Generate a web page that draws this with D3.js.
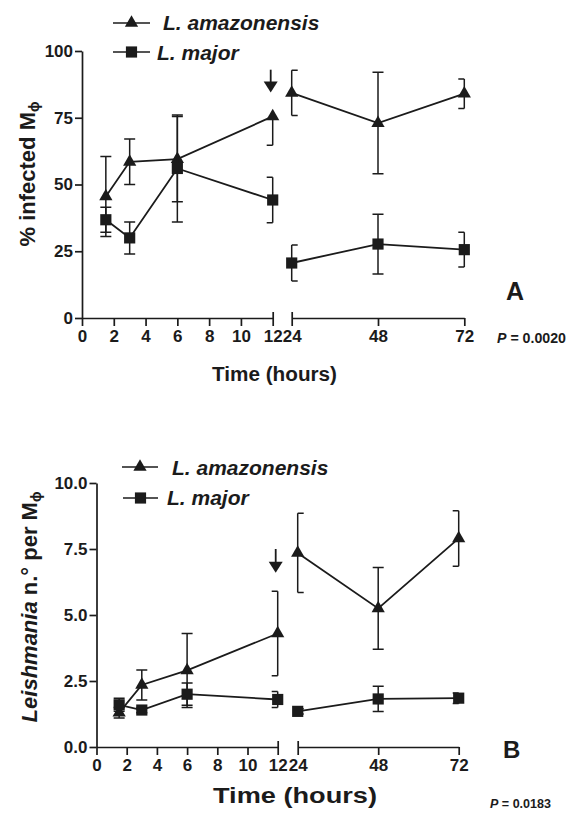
<!DOCTYPE html>
<meta charset="utf-8">
<style>

body {
  margin: 0;
  background: #fff;
}
svg {
  display: block;
}
text {
  font-family: "Liberation Sans", Arial, sans-serif;
  font-weight: bold;
  fill: #1b1b1b;
}
.axis path,
.axis line {
  stroke: #1b1b1b;
  stroke-width: 1.7px;
}
.axis text {
  font-size: 17px;
  font-family: "Liberation Sans", Arial, sans-serif;
}
.line {
  fill: none;
  stroke: #1b1b1b;
  stroke-width: 1.8px;
}
.err {
  fill: none;
  stroke: #1b1b1b;
  stroke-width: 1.5px;
}
.legend {
  font-size: 21px;
  font-style: italic;
}

</style>
<body>
<script src="https://d3js.org/d3.v7.min.js"></script>
<script>
// sampling times (hours); the x axis is broken between 12 and 24
var times = [1.5, 3, 6, 12, 24, 48, 72];
var earlyTicks = [0, 2, 4, 6, 8, 10, 12],
    lateTicks = [24, 48, 72];

// panel A: % infected macrophages
var pctTicks = [0, 25, 50, 75, 100];
var pctAmazonensis   = [45.5, 58.5, 59.5, 75.5, 84.3, 73, 84];
var pctAmazErrLow    = [15, 8.5, 16, 10.8, 8.5, 19, 5.5];
var pctAmazErrHigh   = [15, 8.5, 16, 0, 8.5, 19, 5.5];
var pctMajor         = [36.8, 30, 56, 44.2, 20.6, 27.7, 25.6];
var pctMajorErrLow   = [4.7, 6, 20, 8.5, 6.7, 11.2, 6.5];
var pctMajorErrHigh  = [4.7, 6, 20, 8.5, 6.7, 11.2, 6.5];

// panel B: parasites per macrophage
var numTicks = [0, 2.5, 5, 7.5, 10];
var numAmazonensis   = [1.3, 2.35, 2.9, 4.3, 7.35, 5.25, 7.9];
var numAmazErr       = [0.2, 0.57, 1.4, 1.6, 1.5, 1.55, 1.05];
var numMajor         = [1.6, 1.4, 2.0, 1.8, 1.35, 1.82, 1.85];
var numMajorErr      = [0.25, 0.1, 0.42, 0.3, 0.1, 0.48, 0.2];

// arrows marking 12 h (from value, to value)
var arrowA = {t: 12, from: 93, to: 84.5};
var arrowB = {t: 12, from: 7.5, to: 6.6};

var width = 574,
    height = 813;

var svg = d3.select("body").append("svg")
    .attr("width", width)
    .attr("height", height);

var panels = [
  {
    yTicks: pctTicks, yFormat: d3.format("d"),
    yRange: [318, 51], xa: [82, 272.7], xb: [291.7, 464.3],
    series: [
      {name: "L. amazonensis", shape: "tri", v: pctAmazonensis, lo: pctAmazErrLow, hi: pctAmazErrHigh},
      {name: "L. major", shape: "sq", v: pctMajor, lo: pctMajorErrLow, hi: pctMajorErrHigh}
    ],
    legend: [{x1: 113, x2: 150, y: 23, tx: 163, ty: 30}, {x1: 113, x2: 150, y: 52, tx: 157, ty: 60}],
    arrow: arrowA,
    yTitle: {x: 35, y: 174, parts: [["% infected M", "normal"]]},
    xTitle: {x: 212, y: 381, len: 125, size: 20},
    pval: {x: 497, y: 343, text: " = 0.0020", len: 69, size: 14},
    letter: {x: 506, y: 300, text: "A", size: 25}
  },
  {
    yTicks: numTicks, yFormat: d3.format(".1f"),
    yRange: [747, 483], xa: [96.5, 277.7], xb: [297.7, 458.7],
    series: [
      {name: "L. amazonensis", shape: "tri", v: numAmazonensis, lo: numAmazErr, hi: numAmazErr},
      {name: "L. major", shape: "sq", v: numMajor, lo: numMajorErr, hi: numMajorErr}
    ],
    legend: [{x1: 122, x2: 158, y: 467, tx: 172, ty: 475}, {x1: 123, x2: 158, y: 498, tx: 167, ty: 505}],
    arrow: arrowB,
    yTitle: {x: 37, y: 607, parts: [["Leishmania", "italic"], [" n.\u00b0 per M", "normal"]]},
    xTitle: {x: 213, y: 803, len: 164, size: 22},
    pval: {x: 490, y: 808, text: " = 0.0183", len: 61, size: 12.5},
    letter: {x: 503, y: 758, text: "B", size: 24}
  }
];

panels.forEach(drawPanel);

function drawPanel(p) {
  var g = svg.append("g");

  var y = d3.scaleLinear().domain(d3.extent(p.yTicks)).range(p.yRange);
  var xa = d3.scaleLinear().domain([0, 12]).range(p.xa);
  var xb = d3.scaleLinear().domain([24, 72]).range(p.xb);
  function x(t) { return t <= 12 ? xa(t) : xb(t); }

  g.append("g")
      .attr("class", "axis")
      .attr("transform", "translate(" + p.xa[0] + ",0)")
      .call(d3.axisLeft(y).tickValues(p.yTicks).tickFormat(p.yFormat)
        .tickSize(7).tickSizeOuter(0).tickPadding(2));

  [[xa, earlyTicks], [xb, lateTicks]].forEach(function(s) {
    var ax = g.append("g")
        .attr("class", "axis")
        .attr("transform", "translate(0," + p.yRange[0] + ")")
        .call(d3.axisBottom(s[0]).tickValues(s[1])
          .tickSize(8).tickSizeOuter(0).tickPadding(4));
    // the ends at the axis break stick out above too
    ax.selectAll(".tick").filter(function(d) { return d === 12 || d === 24; })
      .select("line").attr("y1", -6);
  });

  var line = d3.line()
      .x(function(d) { return x(d.t); })
      .y(function(d) { return y(d.v); });

  p.series.forEach(function(s) {
    var pts = times.map(function(t, i) {
      return {t: t, v: s.v[i], lo: s.lo[i], hi: s.hi[i]};
    });
    [pts.filter(function(d) { return d.t <= 12; }),
     pts.filter(function(d) { return d.t >= 24; })].forEach(function(seg) {
      g.append("path").attr("class", "line").attr("d", line(seg));
    });

    pts.forEach(function(d) {
      var cx = x(d.t), c0 = -5.5, c1 = 5.5;
      if (d.t === 12 || d.t === 72) { c0 = -6; c1 = 0; }
      if (d.t === 24) { c0 = 0; c1 = 6; }
      var path = "";
      if (d.hi > 0) {
        var yh = y(d.v + d.hi);
        path += "M" + cx + "," + y(d.v) + "V" + yh + "M" + (cx + c0) + "," + yh + "H" + (cx + c1);
      }
      if (d.lo > 0) {
        var yl = y(d.v - d.lo);
        path += "M" + cx + "," + y(d.v) + "V" + yl + "M" + (cx + c0) + "," + yl + "H" + (cx + c1);
      }
      g.append("path").attr("class", "err").attr("d", path);
    });

    g.selectAll(null)
        .data(pts)
      .enter().append("path")
        .attr("transform", function(d) { return "translate(" + x(d.t) + "," + y(d.v) + ")"; })
        .attr("d", marker(s.shape))
        .attr("fill", "#1b1b1b");
  });

  // legend
  p.series.forEach(function(s, i) {
    var l = p.legend[i];
    g.append("line")
        .attr("x1", l.x1).attr("x2", l.x2).attr("y1", l.y).attr("y2", l.y)
        .attr("stroke", "#1b1b1b").attr("stroke-width", 1.6);
    g.append("path")
        .attr("transform", "translate(" + (l.x1 + l.x2) / 2 + "," + l.y + ")")
        .attr("d", marker(s.shape))
        .attr("fill", "#1b1b1b");
    g.append("text")
        .attr("class", "legend")
        .attr("x", l.tx).attr("y", l.ty)
        .text(s.name);
  });

  // arrow at 12 h
  var ax = x(p.arrow.t) - 2, ay0 = y(p.arrow.from), ay1 = y(p.arrow.to);
  g.append("line")
      .attr("x1", ax).attr("x2", ax).attr("y1", ay0).attr("y2", ay1 - 8)
      .attr("stroke", "#1b1b1b").attr("stroke-width", 1.8);
  g.append("path")
      .attr("d", "M" + (ax - 7) + "," + (ay1 - 11) + "H" + (ax + 7) + "L" + ax + "," + ay1 + "Z")
      .attr("fill", "#1b1b1b");

  // y title
  var yt = g.append("text")
      .attr("transform", "translate(" + p.yTitle.x + "," + p.yTitle.y + ")rotate(-90)")
      .attr("text-anchor", "middle")
      .attr("font-size", 22);
  p.yTitle.parts.forEach(function(part) {
    yt.append("tspan").attr("font-style", part[1]).text(part[0]);
  });
  yt.append("tspan").attr("font-size", 14).attr("dy", 4).text("\u03d5");

  // x title
  g.append("text")
      .attr("x", p.xTitle.x).attr("y", p.xTitle.y)
      .attr("font-size", p.xTitle.size)
      .attr("textLength", p.xTitle.len)
      .attr("lengthAdjust", "spacingAndGlyphs")
      .text("Time (hours)");

  var pv = g.append("text")
      .attr("x", p.pval.x).attr("y", p.pval.y)
      .attr("font-size", p.pval.size)
      .attr("textLength", p.pval.len)
      .attr("lengthAdjust", "spacingAndGlyphs");
  pv.append("tspan").attr("font-style", "italic").text("P");
  pv.append("tspan").text(p.pval.text);

  g.append("text")
      .attr("x", p.letter.x).attr("y", p.letter.y)
      .attr("font-size", p.letter.size)
      .text(p.letter.text);
}

function marker(shape) {
  return shape === "tri"
    ? d3.symbol(d3.symbolTriangle, 76)()
    : d3.symbol(d3.symbolSquare, 125)();
}

</script>
